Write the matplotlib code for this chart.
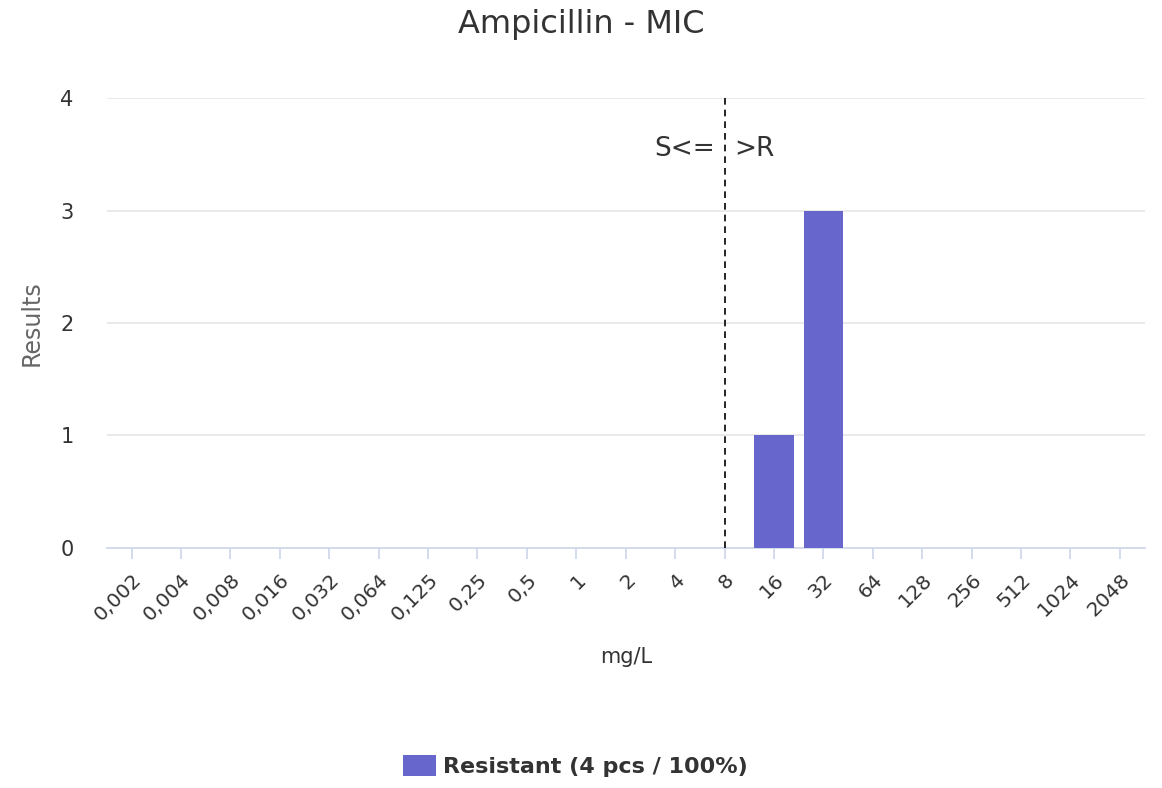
import matplotlib
matplotlib.use("Agg")
import matplotlib.pyplot as plt
from matplotlib.patches import Patch

categories = ["0,002", "0,004", "0,008", "0,016", "0,032", "0,064", "0,125", "0,25", "0,5",
              "1", "2", "4", "8", "16", "32", "64", "128", "256", "512", "1024", "2048"]
resistant = [0, 0, 0, 0, 0, 0, 0, 0, 0, 0, 0, 0, 0, 1, 3, 0, 0, 0, 0, 0, 0]
breakpoint_label = "8"
legend_label = "Resistant (4 pcs / 100%)"

bar_color = "#6666cc"
axis_color = "#ccd6eb"

fig = plt.figure(figsize=(11.62, 7.88), dpi=100)
ax = fig.add_axes([0.092, 0.3046, 0.893, 0.571])

x = list(range(len(categories)))
ax.bar(x, resistant, width=0.8, color=bar_color, zorder=3)

# breakpoint line with S/R labels
bp = categories.index(breakpoint_label)
ax.axvline(bp, color="black", linestyle=(0, (4, 3)), linewidth=1.2, zorder=4)
ax.text(bp - 0.2, 3.55, "S<=", ha="right", va="center", fontsize=19, color="#333333")
ax.text(bp + 0.2, 3.55, ">R", ha="left", va="center", fontsize=19, color="#333333")

ax.set_xlim(-0.5, len(categories) - 0.5)
ax.set_ylim(0, 4)
ax.set_yticks([0, 1, 2, 3, 4])
ax.yaxis.grid(True, color="#e6e6e6", linewidth=1.2, zorder=0)
ax.set_axisbelow(True)

ax.set_xticks(x)
ax.set_xticklabels(categories, rotation=45, ha="right", rotation_mode="anchor", fontsize=14.5, color="#333333")
ax.tick_params(axis="x", length=8, width=1.2, color=axis_color, pad=8)
ax.tick_params(axis="y", length=0, labelsize=15, pad=24, labelcolor="#333333")

for s in ["top", "right", "left"]:
    ax.spines[s].set_visible(False)
ax.spines["bottom"].set_color(axis_color)
ax.spines["bottom"].set_linewidth(1.2)

ax.set_ylabel("Results", fontsize=17, color="#666666")
ax.yaxis.set_label_coords(-0.061, 0.5)
ax.set_xlabel("mg/L", fontsize=15, color="#333333", labelpad=16)
fig.suptitle("Ampicillin - MIC", fontsize=23, color="#333333", y=0.988)

fig.legend(handles=[Patch(facecolor=bar_color, label=legend_label)], loc="center",
           bbox_to_anchor=(0.495, 0.028), frameon=False,
           prop={"weight": "bold", "size": 16}, handlelength=1.5, handleheight=1.1,
           handletextpad=0.3, labelcolor="#333333")

fig.savefig("out.png", dpi=100)
